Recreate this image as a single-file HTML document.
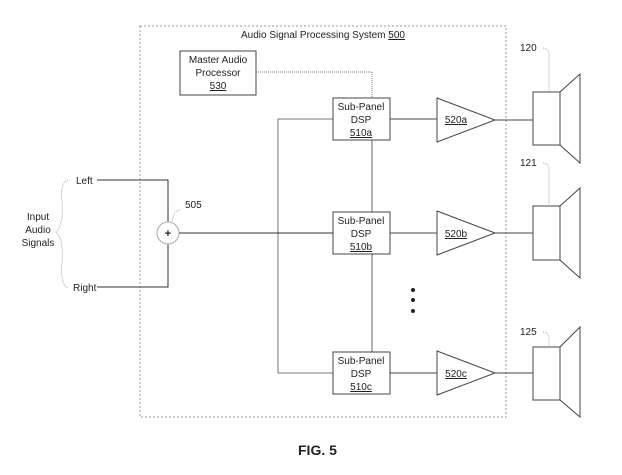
<!DOCTYPE html><html><head><style>body{margin:0;background:#fff}svg{display:block}text{font-family:"Liberation Sans",sans-serif;font-size:10px;fill:#222}</style></head><body>
<svg width="622" height="475" viewBox="0 0 622 475" xmlns="http://www.w3.org/2000/svg">
<rect x="140" y="26" width="366" height="391" fill="none" stroke="#999" stroke-dasharray="2,2"/>
<text x="323" y="38" text-anchor="middle">Audio Signal Processing System <tspan text-decoration="underline">500</tspan></text>
<rect x="180" y="51" width="76" height="44" fill="none" stroke="#444"/>
<text x="218" y="63" text-anchor="middle">Master Audio</text><text x="218" y="76" text-anchor="middle">Processor</text><text x="218" y="89" text-anchor="middle" text-decoration="underline">530</text>
<g fill="none" stroke="#444">
<polyline points="256,72 372,72 372,98" stroke="#777" stroke-dasharray="1,1"/>
<line x1="372" y1="140" x2="372" y2="212" stroke="#666"/>
<line x1="372" y1="254" x2="372" y2="352" stroke="#666"/>
<polyline points="333,119 278,119 278,373 333,373" stroke="#777"/>
<polyline points="97,180 168,180 168,222" stroke="#333"/>
<polyline points="97,287 168,287 168,244" stroke="#333"/>
<circle cx="168" cy="233" r="11" stroke="#aaa"/>
<line x1="179" y1="233" x2="333" y2="233" stroke="#333"/>
</g>
<text x="168" y="237" text-anchor="middle" font-weight="bold" style="font-size:11px">+</text>
<text x="185" y="208">505</text>
<path d="M180,210 q-6,0 -8,12" fill="none" stroke="#aaa" stroke-dasharray="1,1"/>
<text x="76" y="184">Left</text><text x="73" y="291">Right</text>
<text x="38" y="220" text-anchor="middle">Input</text><text x="38" y="233" text-anchor="middle">Audio</text><text x="38" y="246" text-anchor="middle">Signals</text>
<path d="M68,180 q-8,2 -6,20 q2,25 -6,32 q8,7 6,32 q-2,20 6,24" fill="none" stroke="#aaa" stroke-dasharray="1,1"/>
<g id="r">
</g>
<g fill="none" stroke="#444">
<rect x="333" y="98" width="57" height="42"/><rect x="333" y="212" width="57" height="42"/><rect x="333" y="352" width="57" height="42"/>
<line x1="390" y1="119" x2="437" y2="119"/><line x1="390" y1="233" x2="437" y2="233"/><line x1="390" y1="373" x2="437" y2="373"/>
<polygon points="437,98 495,120 437,142"/><polygon points="437,211 495,233 437,255"/><polygon points="437,351 495,373 437,395"/>
<line x1="495" y1="120" x2="533" y2="120"/><line x1="495" y1="233" x2="533" y2="233"/><line x1="495" y1="373" x2="533" y2="373"/>
<rect x="533" y="92" width="27" height="53"/><polygon points="560,92 580,74 580,163 560,145"/>
<rect x="533" y="206" width="27" height="54"/><polygon points="560,206 580,188 580,278 560,260"/>
<rect x="533" y="347" width="27" height="53"/><polygon points="560,347 580,327 580,417 560,400"/>
<path d="M543,48 q6,0 6,8 v36 M543,163 q6,0 6,8 v35 M543,332 q6,0 6,8 v7" stroke="#aaa" stroke-dasharray="1,1"/>
</g>
<g text-anchor="middle">
<text x="361" y="110">Sub-Panel</text><text x="361" y="123">DSP</text><text x="361" y="136" text-decoration="underline">510a</text>
<text x="361" y="224">Sub-Panel</text><text x="361" y="237">DSP</text><text x="361" y="250" text-decoration="underline">510b</text>
<text x="361" y="364">Sub-Panel</text><text x="361" y="377">DSP</text><text x="361" y="390" text-decoration="underline">510c</text>
<text x="456" y="123" text-decoration="underline">520a</text><text x="456" y="237" text-decoration="underline">520b</text><text x="456" y="377" text-decoration="underline">520c</text>
</g>
<text x="520" y="51">120</text><text x="520" y="166">121</text><text x="520" y="335">125</text>
<circle cx="413" cy="290" r="2" fill="#222"/><circle cx="413" cy="300" r="2" fill="#222"/><circle cx="413" cy="311" r="2" fill="#222"/>
<text x="298" y="455" style="font-size:14px;font-weight:bold" fill="#111">FIG. 5</text>
</svg></body></html>
